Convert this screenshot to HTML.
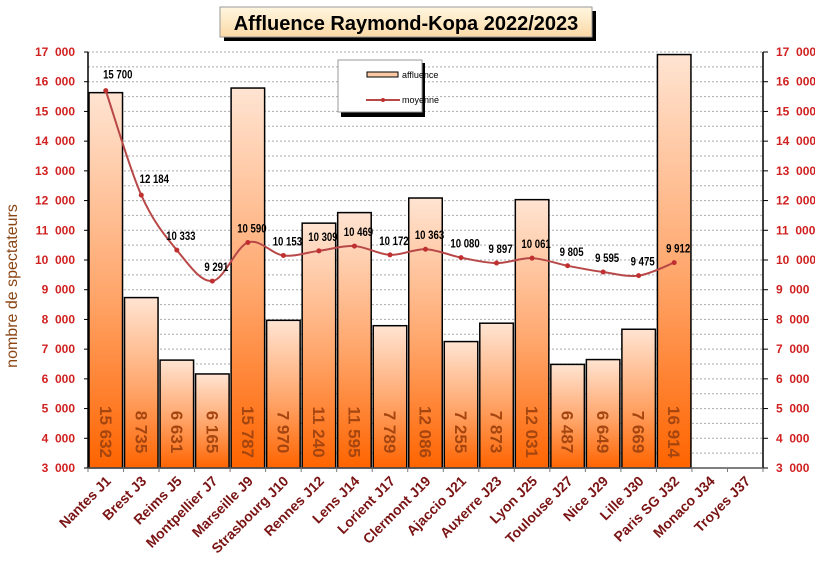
<!DOCTYPE html>
<html><head><meta charset="utf-8"><style>
html,body{margin:0;padding:0;background:#fff;}
svg{display:block;font-family:"Liberation Sans",Arial,sans-serif;}
</style></head><body>
<svg id="c" width="815" height="581" viewBox="0 0 815 581" xmlns="http://www.w3.org/2000/svg">
<defs>
<linearGradient id="bg" x1="0" y1="1" x2="0" y2="0">
<stop offset="0" stop-color="#ff6400"/>
<stop offset="0.45" stop-color="#ffa468"/>
<stop offset="1" stop-color="#ffe4d2"/>
</linearGradient>
<linearGradient id="tg" x1="0" y1="0" x2="0" y2="1">
<stop offset="0" stop-color="#fff6e0"/>
<stop offset="1" stop-color="#fbd9a6"/>
</linearGradient>
</defs>
<g id="g"></g>
<rect x="224" y="11" width="372" height="30" fill="#000"/>
<rect x="220" y="7" width="372" height="30" fill="url(#tg)" stroke="#999" stroke-width="1"/>
<text x="406" y="30" text-anchor="middle" font-size="20" font-weight="bold" fill="#000">Affluence Raymond-Kopa 2022/2023</text>
<text transform="translate(17,286) rotate(-90)" text-anchor="middle" font-size="16" fill="#8b4513">nombre de spectateurs</text>
</svg>
<script>
const NS="http://www.w3.org/2000/svg",g=document.getElementById('g');
function el(t,a,txt){const e=document.createElementNS(NS,t);for(const k in a)e.setAttribute(k,a[k]);if(txt!=null)e.textContent=txt;g.appendChild(e);return e;}
const X0=88,X1=763,Y0=468,Y1=52,n=19,w=(X1-X0)/n;
const Y=v=>Y0-(v-3000)*(Y0-Y1)/14000;
for(let v=3500;v<=17000;v+=500){el('line',{x1:X0,x2:X1,y1:Y(v),y2:Y(v),stroke:'#aaa','stroke-width':1,'stroke-dasharray':'2,2'});}
const cats=["Nantes J1","Brest J3","Reims J5","Montpellier J7","Marseille J9","Strasbourg J10","Rennes J12","Lens J14","Lorient J17","Clermont J19","Ajaccio J21","Auxerre J23","Lyon J25","Toulouse J27","Nice J29","Lille J30","Paris SG J32","Monaco J34","Troyes J37"];
const bars=[15632,8735,6631,6165,15787,7970,11240,11595,7789,12086,7255,7873,12031,6487,6649,7669,16914];
const moy=[15700,12184,10333,9291,10590,10153,10309,10469,10172,10363,10080,9897,10061,9805,9595,9475,9912];
const fmt=v=>String(v).replace(/\B(?=(\d{3})+$)/,' ');
bars.forEach((v,i)=>{const x=X0+i*w+1,y=Y(v);
el('rect',{x:x,y:y,width:w-2,height:Y0-y,fill:'url(#bg)',stroke:'#000','stroke-width':1.5});
const cx=X0+(i+.5)*w;
el('text',{transform:`translate(${cx-6},432) rotate(90)`,'text-anchor':'middle','font-size':17,'font-weight':'bold',fill:'#a5450f'},fmt(v));});
el('line',{x1:X0,x2:X0,y1:Y1,y2:Y0,stroke:'#000','stroke-width':1.5});
el('line',{x1:X1,x2:X1,y1:Y1,y2:Y0,stroke:'#000','stroke-width':1.5});
el('line',{x1:X0,x2:X1,y1:Y0,y2:Y0,stroke:'#555','stroke-width':1.5});
for(let v=3000;v<=17000;v+=1000){const y=Y(v);
el('line',{x1:X0-4,x2:X0,y1:y,y2:y,stroke:'#000'});el('line',{x1:X1,x2:X1+5,y1:y,y2:y,stroke:'#000'});
el('text',{x:75,y:y+4,'text-anchor':'end','font-size':12,'font-weight':'bold',fill:'#d02020'},fmt(v).replace(' ','\u00a0\u00a0'));
el('text',{x:776,y:y+4,'font-size':12,'font-weight':'bold',fill:'#d02020'},fmt(v).replace(' ','\u00a0\u00a0'));}
for(let i=0;i<=n;i++){const x=X0+i*w;el('line',{x1:x,x2:x,y1:Y0,y2:Y0+4,stroke:'#777'});}
cats.forEach((c,i)=>{const cx=X0+(i+.5)*w+6;
el('text',{transform:`translate(${cx},482) rotate(-45)`,'text-anchor':'end','font-size':14,'font-weight':'bold',fill:'#7a1414'},c);});
const P=moy.map((v,i)=>[X0+(i+.5)*w,Y(v)]);
let d=`M${P[0][0]},${P[0][1]}`;
for(let i=0;i<P.length-1;i++){const p0=P[i-1]||P[i],p1=P[i],p2=P[i+1],p3=P[i+2]||p2;const t=6;
d+=` C${p1[0]+(p2[0]-p0[0])/t},${p1[1]+(p2[1]-p0[1])/t} ${p2[0]-(p3[0]-p1[0])/t},${p2[1]-(p3[1]-p1[1])/t} ${p2[0]},${p2[1]}`;}
el('path',{d:d,fill:'none',stroke:'#b84848','stroke-width':2});
P.forEach((p,i)=>{el('circle',{cx:p[0],cy:p[1],r:2.5,fill:'#c03030'});
const tx=p[0]+(i==0?12:i==1?13:4),ty=p[1]-(i<2?12:10);
el('text',{transform:`translate(${tx},${ty}) scale(0.8,1)`,'text-anchor':'middle','font-size':12,'font-weight':'bold',fill:'#000'},fmt(moy[i]));});
el('rect',{x:341,y:63,width:84,height:54,fill:'#000'});
el('rect',{x:338,y:60,width:84,height:52,fill:'#fff',stroke:'#999'});
el('rect',{x:367,y:72,width:31,height:5,fill:'#fcc9a4',stroke:'#000'});
el('text',{x:402,y:78,'font-size':9,fill:'#000'},'affluence');
el('line',{x1:366,x2:400,y1:100,y2:100,stroke:'#b84848','stroke-width':2});
el('circle',{cx:383,cy:100,r:2,fill:'#c03030'});
el('text',{x:402,y:103,'font-size':9,fill:'#000'},'moyenne');
</script>
</body></html>
